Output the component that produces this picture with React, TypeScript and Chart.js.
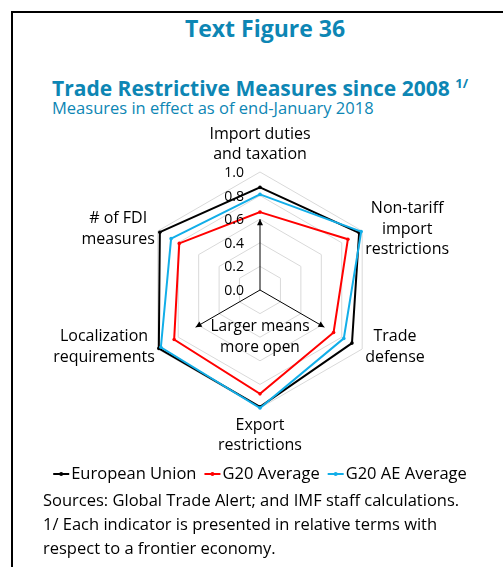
import React, { useEffect, useRef } from "react";
import { Chart, registerables } from "chart.js";

Chart.register(...registerables);

// ---- data ----
const categories: string[][] = [
  ["Import duties", "and taxation"],
  ["Non-tariff", "import", "restrictions"],
  ["Trade", "defense"],
  ["Export", "restrictions"],
  ["Localization", "requirements"],
  ["# of FDI", "measures"],
];
const seriesNames = ["European Union", "G20 Average", "G20 AE Average"];
const euValues = [0.87, 0.97, 0.9, 0.99, 0.99, 0.98];
const g20Values = [0.66, 0.86, 0.72, 0.88, 0.84, 0.79];
const g20AeValues = [0.81, 0.99, 0.82, 1.0, 0.97, 0.87];
const tickValues = [0, 0.2, 0.4, 0.6, 0.8, 1.0];
const tickLabels = ["0.0", "0.2", "0.4", "0.6", "0.8", "1.0"];
const arrowAxes = [0, 2, 4];
const arrowLengths = [0.6, 0.63, 0.63];
const noteLines = ["Larger means", "more open"];
const sourceLines = [
  "Sources: Global Trade Alert; and IMF staff calculations.",
  "1/ Each indicator is presented in relative terms with",
  "respect to a frontier economy.",
];

const FONT = '"Open Sans", "Noto Sans", sans-serif';
const TEAL = "#0d86b4";
const COLORS = ["#000000", "#ff0000", "#12aee8"];

const overlayPlugin = {
  id: "overlay",
  afterDatasetsDraw(chart: any) {
    const scale = chart.scales.r;
    const ctx = chart.ctx as CanvasRenderingContext2D;
    const cx = scale.xCenter;
    const cy = scale.yCenter;
    const R = scale.drawingArea;
    ctx.save();

    // arrows
    ctx.strokeStyle = "#000";
    ctx.fillStyle = "#000";
    ctx.lineWidth = 1;
    arrowAxes.forEach((ax, k) => {
      const end = scale.getPointPosition(ax, scale.getDistanceFromCenterForValue(arrowLengths[k]));
      ctx.beginPath();
      ctx.moveTo(cx, cy);
      ctx.lineTo(end.x, end.y);
      ctx.stroke();
      const ang = Math.atan2(end.y - cy, end.x - cx);
      const hl = 6, hw = 3;
      ctx.beginPath();
      ctx.moveTo(end.x, end.y);
      ctx.lineTo(end.x - hl * Math.cos(ang) + hw * Math.sin(ang), end.y - hl * Math.sin(ang) - hw * Math.cos(ang));
      ctx.lineTo(end.x - hl * Math.cos(ang) - hw * Math.sin(ang), end.y - hl * Math.sin(ang) + hw * Math.cos(ang));
      ctx.closePath();
      ctx.fill();
    });

    // tick labels
    ctx.font = `14px ${FONT}`;
    ctx.fillStyle = "#000";
    ctx.textAlign = "right";
    ctx.textBaseline = "middle";
    tickValues.forEach((v, i) => {
      const d = scale.getDistanceFromCenterForValue(v);
      ctx.fillText(tickLabels[i], cx - 16, cy - d + 1);
    });

    // point labels
    ctx.font = `16px ${FONT}`;
    ctx.textAlign = "center";
    const lh = 20.5;
    categories.forEach((lines, i) => {
      const p = scale.getPointPosition(i, R);
      const c = Math.cos(p.angle);
      const s = Math.sin(p.angle);
      const bw = Math.max(...lines.map((l) => ctx.measureText(l).width));
      const bh = lines.length * lh;
      let x: number, y: number;
      if (Math.abs(c) > 0.2) {
        x = p.x + Math.sign(c) * (3 + bw / 2);
        y = p.y - 2;
      } else {
        x = p.x;
        y = p.y + Math.sign(s) * (7 + bh / 2);
      }
      lines.forEach((l, j) => {
        ctx.fillText(l, x, y - bh / 2 + lh * (j + 0.5));
      });
    });

    // note
    ctx.font = `15.5px ${FONT}`;
    noteLines.forEach((l, j) => {
      ctx.fillText(l, cx, cy + 37 + j * 20.5);
    });

    // legend
    ctx.font = `16.5px ${FONT}`;
    ctx.textAlign = "left";
    const ly = 474;
    const items = chart.data.datasets.map((ds: any) => ({
      label: ds.label,
      color: ds.borderColor,
      w: 18 + ctx.measureText(ds.label).width,
    }));
    const gap = 8;
    const total = items.reduce((a: number, it: any) => a + it.w, 0) + gap * (items.length - 1);
    let x = cx - total / 2;
    items.forEach((it: any) => {
      ctx.strokeStyle = it.color;
      ctx.fillStyle = it.color;
      ctx.lineWidth = 2;
      ctx.beginPath();
      ctx.moveTo(x, ly);
      ctx.lineTo(x + 16, ly);
      ctx.stroke();
      ctx.beginPath();
      ctx.arc(x + 8, ly, 2, 0, Math.PI * 2);
      ctx.fill();
      ctx.fillStyle = "#000";
      ctx.fillText(it.label, x + 18, ly);
      x += it.w + gap;
    });

    ctx.restore();
  },
};

export default function App() {
  const ref = useRef<HTMLCanvasElement | null>(null);
  useEffect(() => {
    if (!ref.current) return;
    const mk = (i: number, data: number[], order: number) => ({
      label: seriesNames[i],
      data,
      borderColor: COLORS[i],
      backgroundColor: COLORS[i],
      pointBackgroundColor: COLORS[i],
      pointBorderColor: COLORS[i],
      pointRadius: 1.8,
      pointBorderWidth: 0,
      borderWidth: 2,
      fill: false,
      order,
    });
    const chart = new Chart(ref.current, {
      type: "radar",
      data: {
        labels: categories.map((c) => c.join(" ")),
        datasets: [mk(0, euValues, 2), mk(1, g20Values, 1), mk(2, g20AeValues, 0)],
      },
      options: {
        animation: false,
        responsive: false,
        devicePixelRatio: 1,
        layout: { padding: { left: 142, top: 172, right: 124, bottom: 158 } },
        plugins: { legend: { display: false }, tooltip: { enabled: false }, title: { display: false } },
        elements: { line: { tension: 0 } },
        scales: {
          r: {
            min: 0,
            max: 1,
            ticks: { display: false, stepSize: 0.2 },
            grid: { color: "#d9d9d9", lineWidth: 1, circular: false },
            angleLines: { display: false },
            pointLabels: { display: false },
          },
        },
      },
      plugins: [overlayPlugin],
    });
    return () => chart.destroy();
  }, []);

  return (
    <div
      style={{
        position: "fixed",
        left: 0,
        top: 0,
        width: 503,
        height: 567,
        overflow: "hidden",
        background: "#fff",
        fontFamily: FONT,
      }}
    >
      <div
        style={{
          position: "absolute",
          left: 11,
          top: 11,
          width: 600,
          height: 600,
          border: "2px solid #000",
        }}
      />
      <div
        style={{
          position: "absolute",
          left: 0,
          width: 530,
          top: 16,
          lineHeight: "24px",
          fontSize: 23,
          fontWeight: 700,
          color: TEAL,
          textAlign: "center",
          whiteSpace: "nowrap",
        }}
      >
        Text Figure 36
      </div>
      <div
        style={{
          position: "absolute",
          left: 52,
          top: 71,
          lineHeight: "24px",
          fontSize: 21,
          fontWeight: 700,
          color: TEAL,
          whiteSpace: "nowrap",
        }}
      >
        Trade Restrictive Measures since 2008{" "}
        <span style={{ fontSize: 13, verticalAlign: "8px" }}>1/</span>
      </div>
      <div
        style={{
          position: "absolute",
          left: 52,
          top: 96,
          lineHeight: "24px",
          fontSize: 16.5,
          color: TEAL,
          whiteSpace: "nowrap",
        }}
      >
        Measures in effect as of end-January 2018
      </div>
      <canvas
        ref={ref}
        width={503}
        height={567}
        style={{ position: "absolute", left: 0, top: 0, width: 503, height: 567 }}
      />
      <div
        style={{
          position: "absolute",
          left: 43,
          top: 488,
          lineHeight: "24px",
          fontSize: 16.5,
          color: "#000",
          whiteSpace: "nowrap",
        }}
      >
        {sourceLines.map((l, i) => (
          <div key={i}>{l}</div>
        ))}
      </div>
    </div>
  );
}
